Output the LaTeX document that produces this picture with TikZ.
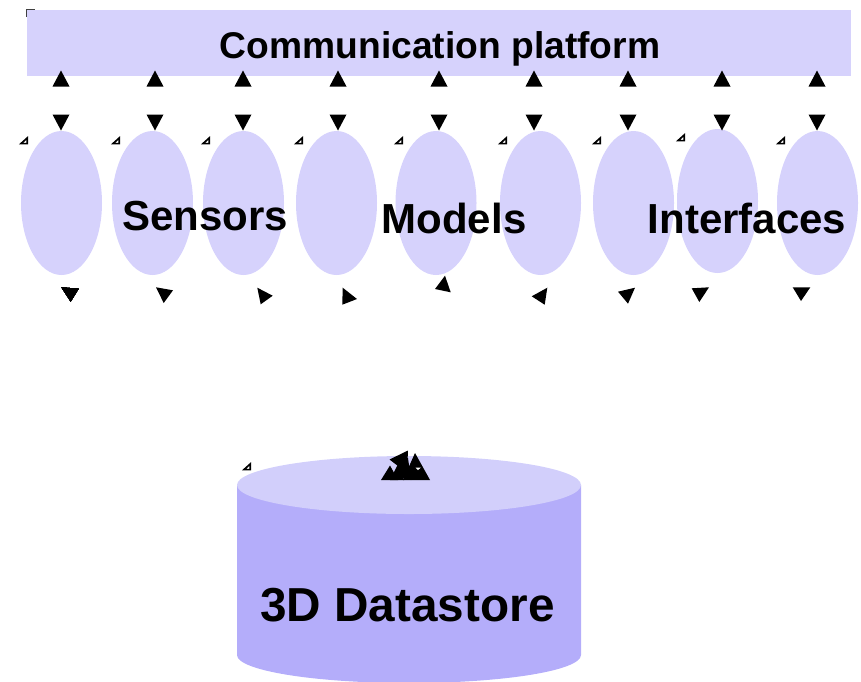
\documentclass[tikz,border=0pt]{standalone}
\usepackage{fontspec}
\setmainfont{Liberation Sans}
\usetikzlibrary{shapes.geometric}
\definecolor{lav}{HTML}{D6D2FC}
\definecolor{cyltop}{HTML}{D2CFFB}
\definecolor{cylbody}{HTML}{B4ADFA}
\tikzset{
  oval/.style={shape=ellipse,fill=lav,draw=none,inner sep=0pt,minimum width=81pt,minimum height=144pt},
  banner/.style={shape=rectangle,fill=lav,draw=none,inner sep=0pt,minimum width=824pt,minimum height=66pt},
  biglabel/.style={inner sep=0pt,font=\bfseries\fontsize{42}{42}\selectfont,text=black},
  head/.style={fill=black,draw=none},
  tick/.style={draw=black,fill=white,line width=1.7pt,line join=miter},
}
\newcommand{\uptri}[2]{\fill[head] (#1,#2) ++(0,-8) -- ++(8.5,16) -- ++(-17,0) -- cycle;}
\newcommand{\dntri}[2]{\fill[head] (#1,#2) ++(0,8) -- ++(8.5,-16) -- ++(-17,0) -- cycle;}
\newcommand{\tickmark}[2]{\draw[tick] (#1+6.2,#2-3) -- (#1+6.2,#2+2.6) -- (#1,#2+2.6) -- cycle;}
\begin{document}
\begin{tikzpicture}[x=1pt,y=-1pt]
\useasboundingbox (0,0) rectangle (861,681);
% banner
\node[banner] (platform) at (439,43) {};
\draw[black!75,line width=0.8pt] (26.5,17) -- (26.5,9.5) -- (35,9.5);
% ovals
\foreach \n/\cx/\cy in {a/61.5/203,b/152.5/203,c/243.5/203,d/336.5/203,e/436/203,f/540.5/203,g/633.5/203,h/717.5/201,i/817.5/203}
  \node[oval] (\n) at (\cx,\cy) {};
% top arrowheads
\foreach \x in {61,155,243,338,439,534,628,722,817} {
  \uptri{\x}{78.5}
  \dntri{\x}{122.5}
}
% small marks
\foreach \x/\y in {21/141,113/141,203/141,296/141,396/141,500/141,594/141,678/138,778/141,244/467}
  \tickmark{\x}{\y}
% lower arrowheads
\fill[head] (61.3,287.3) -- (78.7,288.7) -- (70.7,301.7) -- cycle;
\fill[head] (156,287.3) -- (173,290.3) -- (163.7,303) -- cycle;
\fill[head] (257.3,287.7) -- (272.7,295.7) -- (260.7,304.3) -- cycle;
\fill[head] (342.7,287.7) -- (357,299) -- (342.3,304.7) -- cycle;
\fill[head] (445,275.7) -- (435,289) -- (450.7,292.3) -- cycle;
\fill[head] (531.7,296.3) -- (547.3,287.7) -- (544.7,304.7) -- cycle;
\fill[head] (618,291.7) -- (635,287.7) -- (628,303.7) -- cycle;
\fill[head] (691.7,288.3) -- (709,287.3) -- (699.3,302) -- cycle;
\fill[head] (792.7,287.3) -- (810.3,287.3) -- (801,301) -- cycle;
% cylinder
\fill[cylbody] (237,485) -- (237,655) arc[start angle=180,end angle=0,x radius=172,y radius=28] -- (581,485) -- cycle;
\node[shape=ellipse,fill=cyltop,inner sep=0pt,minimum width=344pt,minimum height=58pt] (top) at (409,485) {};
% cluster of arrowheads on the datastore
\fill[head] (381,480) -- (390,465.5) -- (398,480) -- cycle;
\fill[head] (390,480) -- (399,462) -- (404,480) -- cycle;
\fill[head] (403,480) -- (415,453) -- (430,480) -- cycle;
\fill[head] (389.5,459.5) -- (408,450.5) -- (407,472) -- (398,466) -- cycle;
\fill[head] (396,458) -- (408,458) -- (411,480) -- (403,478) -- cycle;
\fill[white] (415.5,467.5) -- (421,467.5) -- (418,470) -- cycle;
% labels
\node[biglabel,font=\bfseries\fontsize{37.2}{38}\selectfont] (tplat) at (440,49) {Communication platform};
\node[biglabel] (tsens) at (205,216) {Sensors};
\node[biglabel] (tmod) at (454,218.5) {Models};
\node[biglabel] (tint) at (747,218.5) {Interfaces};
\node[biglabel,font=\bfseries\fontsize{47.7}{48}\selectfont] (tstore) at (407.5,605) {3D Datastore};
\end{tikzpicture}
\end{document}
